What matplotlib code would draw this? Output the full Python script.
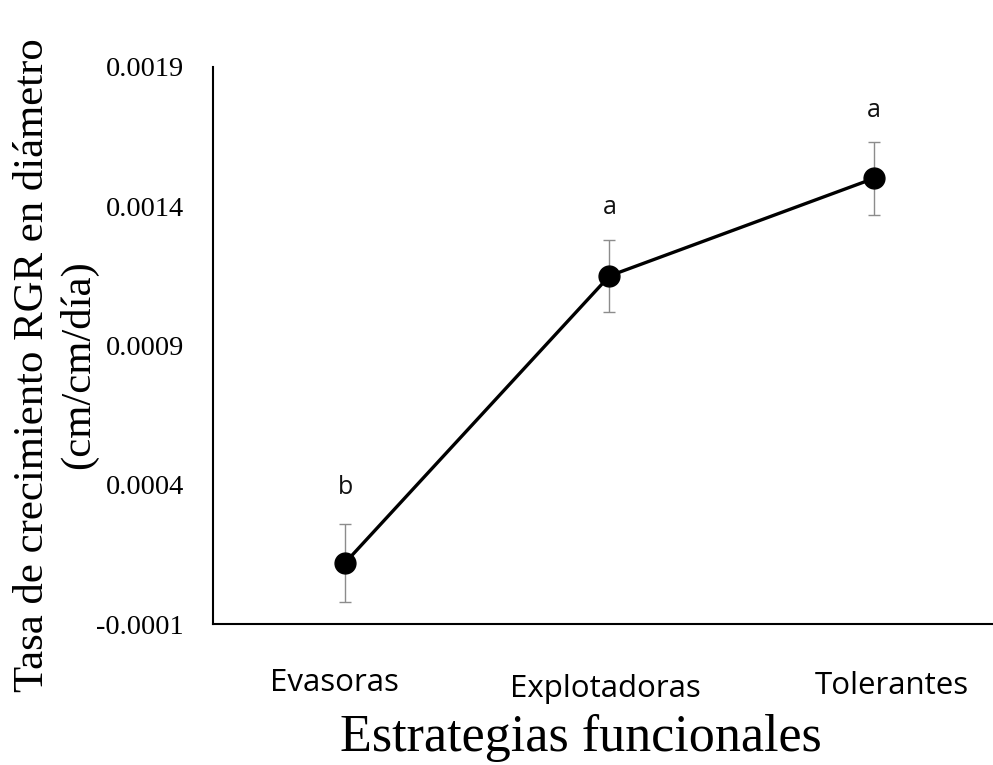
import matplotlib
matplotlib.use("Agg")
import matplotlib.pyplot as plt
import matplotlib.transforms as mtransforms

# Relative growth rate in diameter by functional strategy
categories = ["Evasoras", "Explotadoras", "Tolerantes"]
rgr_mean = [0.00012, 0.00115, 0.00150]
rgr_err = [0.00014, 0.00013, 0.00013]
group_letters = ["b", "a", "a"]
y_ticks = [-0.0001, 0.0004, 0.0009, 0.0014, 0.0019]
y_tick_labels = ["-0.0001", "0.0004", "0.0009", "0.0014", "0.0019"]

serif = ["Liberation Serif", "DejaVu Serif"]
sans = ["Open Sans", "DejaVu Sans"]

fig = plt.figure(figsize=(9.93, 7.65), dpi=100)
W, H = 993, 765
left, right, bottom, top = 213, 1006, 624, 67
ax = fig.add_axes([left / W, 1 - bottom / H, (right - left) / W, (bottom - top) / H])

x = list(range(len(categories)))
ax.errorbar(x, rgr_mean, yerr=rgr_err, fmt="none", ecolor="#8c8c8c",
            elinewidth=1.0, capsize=4, capthick=1.0, zorder=2)
ax.plot(x, rgr_mean, color="black", linewidth=2.4, marker="o",
        markersize=15, markerfacecolor="black", markeredgecolor="black", zorder=3)

letter_dy = [26, 23, 23]
for xi, m, e, lab, dy in zip(x, rgr_mean, rgr_err, group_letters, letter_dy):
    ax.annotate(lab, (xi, m + e), xytext=(0, dy), textcoords="offset points",
                ha="center", va="center", fontsize=18, family=sans, color="#111111")

ax.set_xlim(-0.5, 2.5)
ax.set_ylim(-0.0001, 0.0019)
ax.set_yticks(y_ticks)
ax.set_yticklabels(y_tick_labels, family=serif, fontsize=20.5)
ax.set_xticks(x)
ax.set_xticklabels([])
ax.tick_params(axis="both", length=0)
ax.tick_params(axis="y", pad=21)

for s in ["top", "right"]:
    ax.spines[s].set_visible(False)
for s in ["left", "bottom"]:
    ax.spines[s].set_linewidth(1.5)
    ax.spines[s].set_color("black")

# category labels placed below the axis
trans = mtransforms.blended_transform_factory(ax.transData, fig.transFigure)
label_dx = [-0.042, -0.015, 0.068]
label_y = [683, 689, 686]
for xi, name, dx, yy in zip(x, categories, label_dx, label_y):
    ax.text(xi + dx, 1 - yy / H, name, transform=trans, ha="center", va="center",
            fontsize=22.5, family=sans, color="black")

fig.text(581 / W, 1 - 738 / H, "Estrategias funcionales", ha="center", va="center",
         fontsize=37.5, family=serif)
fig.text(56 / W, 1 - 365 / H, "Tasa de crecimiento RGR en diámetro\n(cm/cm/día)",
         ha="center", va="center", rotation=90, fontsize=30.8, family=serif,
         multialignment="center", linespacing=1.25)

fig.savefig("out.png", dpi=100)
